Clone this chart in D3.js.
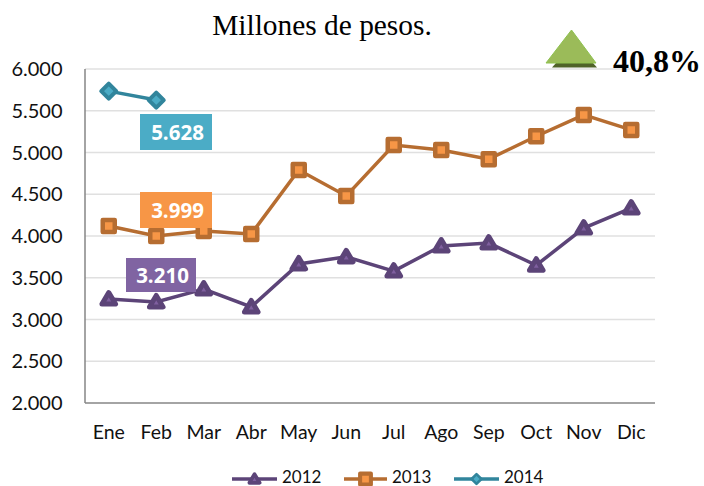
<!DOCTYPE html>
<html><head><meta charset="utf-8">
<script src="https://cdn.jsdelivr.net/npm/d3@7/dist/d3.min.js"></script>
<style>html,body{margin:0;padding:0;background:#fff}svg{display:block}</style></head>
<body><svg id="c" width="704" height="486"></svg>
<script>
const months=["Ene","Feb","Mar","Abr","May","Jun","Jul","Ago","Sep","Oct","Nov","Dic"];
const s2012=[3245,3210,3365,3150,3665,3750,3580,3880,3915,3650,4095,4335];
const s2013=[4120,3999,4060,4025,4790,4480,5090,5030,4920,5195,5450,5270];
const s2014=[5735,5628];
const yTicks=[2000,2500,3000,3500,4000,4500,5000,5500,6000];
const fmt=v=>d3.format(",")(v).replace(",",".");
const svg=d3.select("#c");
const x=d3.scaleBand().domain(months).range([85,655]);
const y=d3.scaleLinear().domain([2000,6000]).range([403,69]);
const cx=m=>x(m)+x.bandwidth()/2;
const FONT="Lato, sans-serif";

svg.append("g").selectAll("line").data(yTicks.slice(1)).join("line")
 .attr("x1",85).attr("x2",655).attr("y1",y).attr("y2",y)
 .attr("stroke","#e0e0e0").attr("stroke-width",1.5);
svg.append("line").attr("x1",85).attr("x2",85).attr("y1",69).attr("y2",403).attr("stroke","#868686").attr("stroke-width",1.5);
svg.append("line").attr("x1",85).attr("x2",655).attr("y1",403).attr("y2",403).attr("stroke","#868686").attr("stroke-width",1.5);
svg.append("g").selectAll("text").data(yTicks).join("text")
 .attr("x",62.5).attr("y",d=>y(d)+7).attr("text-anchor","end")
 .attr("font-family",FONT).attr("font-size",20).attr("fill","#111").text(fmt);
svg.append("g").selectAll("text").data(months).join("text")
 .attr("x",cx).attr("y",439).attr("text-anchor","middle")
 .attr("font-family",FONT).attr("font-size",19.5).attr("fill","#111").text(d=>d);

svg.append("text").attr("x",322).attr("y",35).attr("text-anchor","middle")
 .attr("font-family","'Liberation Serif', serif").attr("font-size",29.4).attr("fill","#000").text("Millones de pesos.");

// up-arrow decoration
svg.append("path").attr("d","M552 67.5H597L593 63H556Z").attr("fill","#4f6228");
svg.append("path").attr("d","M571.5 30L596 63H546Z").attr("fill","#9bbb59").attr("stroke","#8ec24f").attr("stroke-width",1);
svg.append("text").attr("x",613).attr("y",72).attr("font-family","'Liberation Serif', serif").attr("font-weight","bold")
 .attr("font-size",32).attr("fill","#000").text("40,8%");

const series=[
 {name:"2012",vals:s2012,line:"#5c4478",fill:"#7f5f9f",shape:"tri",lk:0.75},
 {name:"2013",vals:s2013,line:"#b66d31",fill:"#f79646",shape:"sq",lk:0.9},
 {name:"2014",vals:s2014,line:"#31859c",fill:"#4bacc6",shape:"dia",lk:0.65}
];
function marker(g,s,px,py,k=1){
 const a=g.append("path").attr("transform",`translate(${px},${py}) scale(${k})`)
  .attr("fill",s.fill).attr("stroke",s.line).attr("stroke-linejoin","round");
 if(s.shape==="tri")a.attr("d","M0 -6.5L6.8 5H-6.8Z").attr("stroke-width",5);
 if(s.shape==="sq")a.attr("d","M-6 -6H6V6H-6Z").attr("stroke-width",4.5);
 if(s.shape==="dia")a.attr("d","M0 -7.5L7.5 0L0 7.5L-7.5 0Z").attr("stroke-width",4);
}
const line=d3.line().x((d,i)=>cx(months[i])).y(d=>y(d));
series.forEach(s=>{
 svg.append("path").attr("d",line(s.vals)).attr("fill","none").attr("stroke",s.line).attr("stroke-width",3.5);
 const g=svg.append("g");
 s.vals.forEach((v,i)=>marker(g,s,cx(months[i]),y(v)));
});

// value callouts
const callouts=[
 {label:fmt(5628),bx:140,by:114,w:72,h:36,fill:"#4bacc6"},
 {label:fmt(3999),bx:140,by:192,w:72,h:36,fill:"#f79646"},
 {label:fmt(3210),bx:126,by:258,w:70,h:34,fill:"#8064a2"}
];
callouts.forEach(c=>{
 svg.append("rect").attr("x",c.bx).attr("y",c.by).attr("width",c.w).attr("height",c.h).attr("fill",c.fill);
 svg.append("text").attr("x",c.bx+c.w/2+1.5).attr("y",c.by+c.h/2+7.5).attr("text-anchor","middle")
  .attr("font-family","'Open Sans', sans-serif").attr("font-weight","bold").attr("font-size",20.5).attr("fill","#fff").text(c.label);
});

// legend
const lx=[[232,277],[344,387],[454,499]];
series.forEach((s,i)=>{
 const [a,b]=lx[i];
 svg.append("line").attr("x1",a).attr("x2",b).attr("y1",479).attr("y2",479).attr("stroke",s.line).attr("stroke-width",3.5);
 marker(svg,s,(a+b)/2,479,s.lk);
 svg.append("text").attr("x",b+5).attr("y",482.5).attr("font-family",FONT).attr("font-size",17).attr("fill","#111").text(s.name);
});
</script></body></html>
